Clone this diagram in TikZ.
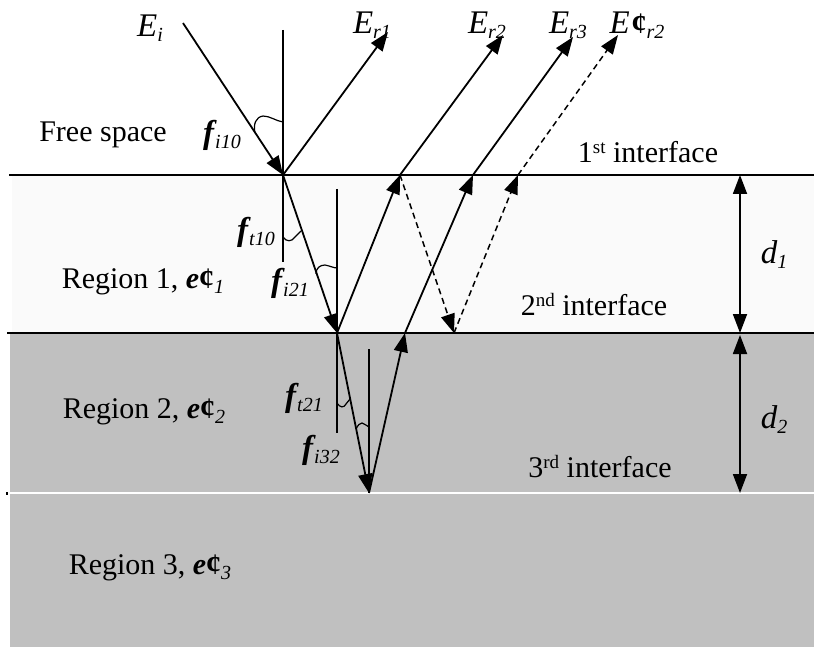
\documentclass[tikz,border=0pt]{standalone}
\usepackage{fontspec}
\setmainfont{Liberation Serif}
\usepackage{tikz}
\usetikzlibrary{arrows.meta}
\definecolor{LayerOne}{RGB}{250,250,250}
\definecolor{LayerGray}{RGB}{192,192,192}
\newcommand{\subtxt}[1]{\raisebox{-5pt}{\fontsize{20}{20}\selectfont\itshape #1}}
\newcommand{\bigsym}[1]{{\fontsize{33}{36}\selectfont #1}}
\newcommand{\angsym}[1]{\bigsym{\bfseries\itshape f}\kern1pt\subtxt{#1}}
\newcommand{\permsym}[1]{{\bfseries\itshape e}{\bfseries ¢}\subtxt{#1}}
\newcommand{\fieldsym}[1]{\bigsym{\itshape E}\subtxt{#1}}
\newcommand{\ordsup}[1]{\raisebox{9pt}{\fontsize{19}{19}\selectfont #1}}

\begin{document}
\begin{tikzpicture}[x=1pt,y=-1pt,>={Triangle[length=19pt,width=14pt]},line width=1.8pt,every node/.style={font=\fontsize{30}{34}\selectfont,inner sep=0pt}]
\tikzset{ray/.style={->},dray/.style={->,line width=1.5pt,dash pattern=on 6pt off 4pt},arcmark/.style={line width=1.2pt},gap/.style={<->}}
\useasboundingbox (0,0) rectangle (814,647);
\fill[LayerOne] (12,176) rectangle (814,333);
\fill[LayerGray] (10,333) rectangle (814,493);
\fill[LayerGray] (10,493) rectangle (814,647);
\draw (9,175) -- (814,175);
\draw (7,333) -- (814,333);
\draw[white] (10,493) -- (814,493);
\fill (5.5,492) rectangle (8,494.5);
\coordinate (src) at (183,23);
\coordinate (p1) at (283,175);
\coordinate (p2) at (337,333);
\coordinate (p3) at (400,175);
\coordinate (p4) at (369,493);
\coordinate (p5) at (405,333);
\coordinate (p6) at (473,175);
\coordinate (p7) at (454,333);
\coordinate (p8) at (518,175);
\coordinate (er1) at (388,32);
\coordinate (er2) at (503,35);
\coordinate (er3) at (573,37);
\coordinate (er2b) at (618,35);
\coordinate (d1top) at (740,175);
\coordinate (d1bot) at (740,333);
\coordinate (d2top) at (740,335);
\coordinate (d2bot) at (740,493);
\draw (283,30) -- (283,262);
\draw (337,189) -- (337,433);
\draw (369,349) -- (369,493);
\draw[ray] (src) -- (p1);
\draw[ray] (p1) -- (er1);
\draw[ray] (p1) -- (p2);
\draw[ray] (p2) -- (p3);
\draw[ray] (p3) -- (er2);
\draw[ray] (p2) -- (p4);
\draw[ray] (p4) -- (p5);
\draw[ray] (p5) -- (p6);
\draw[ray] (p6) -- (er3);
\draw[dray] (p3) -- (p7);
\draw[dray] (p7) -- (p8);
\draw[dray] (p8) -- (er2b);
\draw[gap] (d1top) -- (d1bot);
\draw[gap] (d2top) -- (d2bot);
\draw[arcmark] (255,133) .. controls (253,124) and (256,117) .. (263,116) .. controls (270,116) and (276,121) .. (283,122);
\draw[arcmark] (283,237) .. controls (286,242) and (292,242) .. (295,237) -- (301,231);
\draw[arcmark] (316,274) .. controls (316,268) and (320,265) .. (325,265) .. controls (330,266) and (334,268) .. (337,268);
\draw[arcmark] (337,403) .. controls (340,408) and (344,408) .. (346,404) -- (350,399);
\draw[arcmark] (356,429) .. controls (358,425) and (360,423) .. (362,423) .. controls (365,424) and (367,426) .. (369,427);
\node (lEi) at (150,28) {\fieldsym{i}};
\node (lEr1) at (372,25) {\fieldsym{r1}};
\node (lEr2) at (487,25) {\fieldsym{r2}};
\node (lEr3) at (568,25) {\fieldsym{r3}};
\node (lEr2b) at (637,25) {\bigsym{\itshape E}\kern2pt{\bfseries ¢}\subtxt{r2}};
\node (free) at (103,135) {Free space};
\node (ai10) at (222,135) {\angsym{i10}};
\node (if1) at (648,152) {1\ordsup{st} interface};
\node (at10) at (256,232) {\angsym{t10}};
\node (ai21) at (290,283) {\angsym{i21}};
\node (reg1) at (143,282) {Region 1, \permsym{1}};
\node (if2) at (594,305) {2\ordsup{nd} interface};
\node (ld1) at (774,255) {\bigsym{\itshape d}\subtxt{1}};
\node (reg2) at (144,412) {Region 2, \permsym{2}};
\node (at21) at (304,398) {\angsym{t21}};
\node (ai32) at (321,450) {\angsym{i32}};
\node (if3) at (600,467) {3\ordsup{rd} interface};
\node (ld2) at (774,420) {\bigsym{\itshape d}\subtxt{2}};
\node (reg3) at (150,568) {Region 3, \permsym{3}};
\end{tikzpicture}
\end{document}
